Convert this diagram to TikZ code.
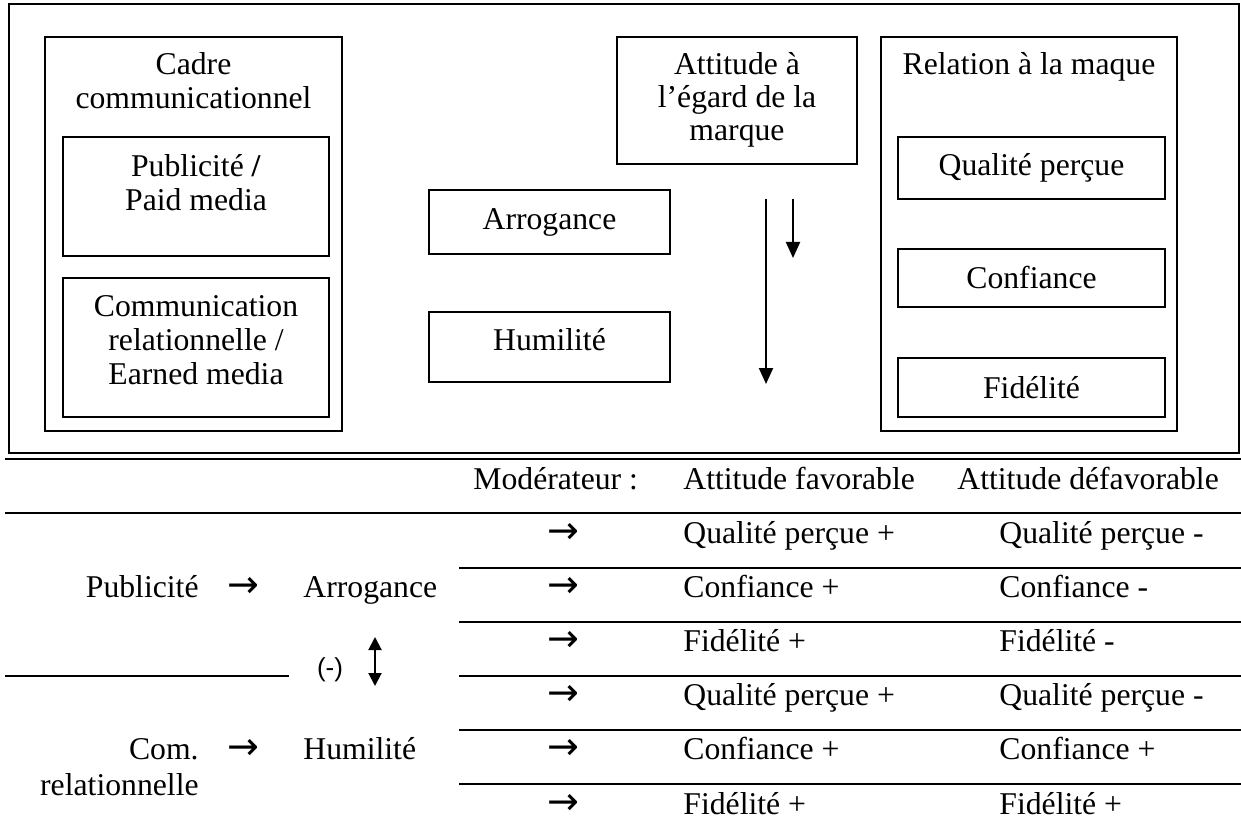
\documentclass[tikz,border=0pt]{standalone}
\usepackage{fontspec}
\setmainfont{Liberation Serif}
\newfontfamily\arialf{Liberation Sans}
\newfontfamily\arrowf{DejaVu Sans}
\usetikzlibrary{arrows.meta,fit}
\begin{document}
\begin{tikzpicture}[x=0.5pt,y=-0.5pt,
  box/.style={draw, line width=1pt, inner sep=0pt, rectangle},
  txt/.style={inner sep=0pt, anchor=base, font=\fontsize{15.85pt}{17pt}\selectfont},
  txtl/.style={txt, anchor=base west},
  txtr/.style={txt, anchor=base east},
  arr/.style={inner sep=0pt, anchor=base, font=\arrowf\fontsize{19pt}{20pt}\selectfont},
  varrow/.style={line width=1pt, -{Triangle[length=8pt,width=7pt]}},
  darrow/.style={line width=1pt, {Triangle[length=6.5pt,width=6.5pt]}-{Triangle[length=6.5pt,width=6.5pt]}},
  rulel/.style={line width=1.3pt}
]
\useasboundingbox (0,0) rectangle (1241,834);

% ---------- upper frame ----------
\node[box, fit={(9,4) (1239,453)}] (frame) {};

% Cadre communicationnel
\node[box, fit={(45,37) (342,431)}] (cadre) {};
\node[txt] (cadreT1) at (193.5,75) {Cadre};
\node[txt] (cadreT2) at (193.5,109) {communicationnel};
\node[box, fit={(63,137) (329,256)}] (pub) {};
\node[txt] (pubT1) at (196,177) {Publicité \textbf{/}};
\node[txt] (pubT2) at (196,211) {Paid media};
\node[box, fit={(63,278) (329,417)}] (comm) {};
\node[txt] (commT1) at (196,316) {Communication};
\node[txt] (commT2) at (196,350) {relationnelle /};
\node[txt] (commT3) at (196,384) {Earned media};

% Attitude
\node[box, fit={(617,37) (857,164)}] (att) {};
\node[txt] (attT1) at (737,75) {Attitude à};
\node[txt] (attT2) at (737,108) {l’égard de la};
\node[txt] (attT3) at (737,141) {marque};

% Arrogance / Humilite
\node[box, fit={(429,190) (670,254)}] (arr) {};
\node[txt] (arrT) at (549.5,229) {Arrogance};
\node[box, fit={(429,312) (670,382)}] (hum) {};
\node[txt] (humT) at (549.5,350) {Humilité};

% vertical arrows
\coordinate (la1) at (766,199);
\coordinate (la2) at (766,384);
\coordinate (sa1) at (793,199);
\coordinate (sa2) at (793,258);
\draw[varrow] (la1) -- (la2);
\draw[varrow] (sa1) -- (sa2);

% Relation a la marque
\node[box, fit={(881,37) (1177,431)}] (rel) {};
\node[txt] (relT) at (1029,75) {Relation à la maque};
\node[box, fit={(898,137) (1165,199)}] (qual) {};
\node[txt] (qualT) at (1031.5,176) {Qualité perçue};
\node[box, fit={(898,249) (1165,307)}] (conf) {};
\node[txt] (confT) at (1031.5,288) {Confiance};
\node[box, fit={(898,358) (1165,417)}] (fid) {};
\node[txt] (fidT) at (1031.5,398) {Fidélité};

% ---------- lower table ----------
\draw[rulel] (5,459) -- (1241,459);
\draw[rulel] (5,513) -- (1241,513);
\foreach \yy in {568,622,676,730,784} {
  \draw[rulel] (459,\yy) -- (1241,\yy);
}
\draw[rulel] (5,676) -- (289,676);

\node[txtl] (mod) at (473,489) {Modérateur :};
\node[txtl] (hfav) at (683,489) {Attitude favorable};
\node[txtl] (hdef) at (957,489) {Attitude défavorable};

\node[arr] (r1a) at (563,543) {→};
\node[txtl] (r1b) at (683,543) {Qualité perçue +};
\node[txtl] (r1c) at (999,543) {Qualité perçue -};
\node[arr] (r2a) at (563,597) {→};
\node[txtl] (r2b) at (683,597) {Confiance +};
\node[txtl] (r2c) at (999,597) {Confiance -};
\node[arr] (r3a) at (563,651) {→};
\node[txtl] (r3b) at (683,651) {Fidélité +};
\node[txtl] (r3c) at (999,651) {Fidélité -};
\node[arr] (r4a) at (563,705) {→};
\node[txtl] (r4b) at (683,705) {Qualité perçue +};
\node[txtl] (r4c) at (999,705) {Qualité perçue -};
\node[arr] (r5a) at (563,759) {→};
\node[txtl] (r5b) at (683,759) {Confiance +};
\node[txtl] (r5c) at (999,759) {Confiance +};
\node[arr] (r6a) at (563,814) {→};
\node[txtl] (r6b) at (683,814) {Fidélité +};
\node[txtl] (r6c) at (999,814) {Fidélité +};

\node[txtr] (lpub) at (199,597) {Publicité};
\node[arr] (lpubA) at (243,597) {→};
\node[txtl] (larr) at (303,597) {Arrogance};
\node[txtr] (lcom) at (199,759) {Com.};
\node[txtr] (lcom2) at (199,795) {relationnelle};
\node[arr] (lcomA) at (243,759) {→};
\node[txtl] (lhum) at (303,759) {Humilité};

\node[inner sep=0pt, anchor=base, font=\arialf\fontsize{13pt}{14pt}\selectfont] (minus) at (330,676) {(-)};
\coordinate (da1) at (375,637);
\coordinate (da2) at (375,686);
\draw[darrow] (da1) -- (da2);
\end{tikzpicture}
\end{document}
